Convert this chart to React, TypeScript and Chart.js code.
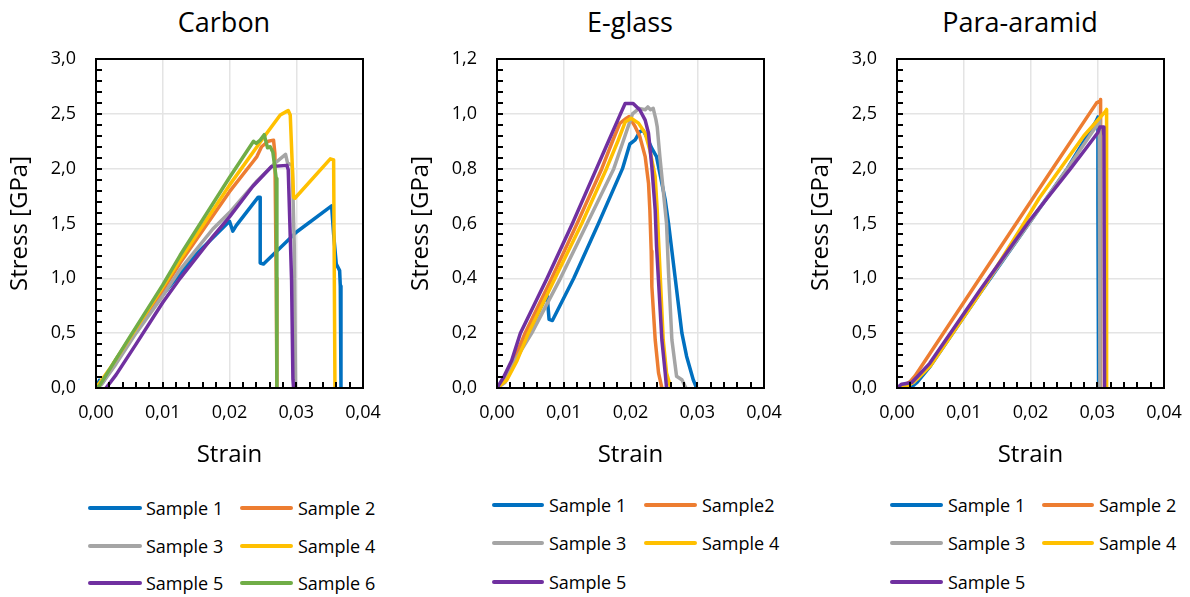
import React, { useEffect, useRef } from "react";
import { Chart, registerables } from "chart.js";
Chart.register(...registerables);

const FONT = "'Open Sans', 'Noto Sans', sans-serif";
const COLORS = ["#0070C0", "#ED7D31", "#A5A5A5", "#FFC000", "#7030A0", "#70AD47"];

const STRAIN_TICKS = { min: 0, max: 0.04, step: 0.01, minor: 0.002 };

// ---------- Carbon ----------
const carbonLabels = ["Sample 1", "Sample 2", "Sample 3", "Sample 4", "Sample 5", "Sample 6"];
const carbon1 = [[0,0],[0.0005,0.07],[0.001,0.05],[0.003,0.26],[0.006,0.53],[0.01,0.85],[0.015,1.22],[0.018,1.4],[0.02,1.52],[0.0205,1.43],[0.021,1.48],[0.0243,1.74],[0.0246,1.74],[0.0246,1.14],[0.0251,1.13],[0.03,1.42],[0.0353,1.66],[0.0356,1.4],[0.036,1.13],[0.0365,1.07],[0.0366,0.93],[0.0367,0]];
const carbon2 = [[0,0],[0.002,0.15],[0.005,0.43],[0.01,0.89],[0.0126,1.14],[0.02,1.79],[0.0236,2.07],[0.0241,2.11],[0.0248,2.2],[0.0258,2.25],[0.0266,2.26],[0.0268,2.14],[0.027,1.0],[0.0271,0]];
const carbon3 = [[0,0],[0.0008,0.03],[0.003,0.22],[0.006,0.5],[0.01,0.84],[0.0126,1.08],[0.0175,1.45],[0.02,1.6],[0.024,1.88],[0.027,2.06],[0.0284,2.13],[0.0287,2.05],[0.0294,2.03],[0.0297,1.3],[0.0299,0]];
const carbon4 = [[0,0],[0.002,0.17],[0.005,0.45],[0.01,0.92],[0.0126,1.17],[0.02,1.85],[0.0253,2.3],[0.0276,2.49],[0.0285,2.52],[0.0288,2.53],[0.0291,2.49],[0.0296,1.74],[0.0298,1.73],[0.0351,2.09],[0.0356,2.08],[0.0358,0]];
const carbon5 = [[0.0015,0],[0.003,0.12],[0.006,0.4],[0.01,0.78],[0.0126,1.0],[0.0175,1.38],[0.02,1.56],[0.0235,1.84],[0.0263,2.02],[0.0286,2.03],[0.0288,1.99],[0.0293,0.98],[0.0295,0.08],[0.0296,0]];
const carbon6 = [[0,0],[0.0005,0.02],[0.005,0.46],[0.01,0.94],[0.0126,1.21],[0.02,1.92],[0.0236,2.25],[0.024,2.23],[0.0246,2.26],[0.0252,2.31],[0.0257,2.19],[0.0261,2.2],[0.0265,2.15],[0.027,1.91],[0.0271,0]];

// ---------- E-glass ----------
const glassLabels = ["Sample 1", "Sample2", "Sample 3", "Sample 4", "Sample 5"];
const glass1 = [[0,0],[0.0015,0.04],[0.003,0.11],[0.0047,0.2],[0.0075,0.34],[0.0078,0.25],[0.0083,0.246],[0.0115,0.4],[0.0152,0.6],[0.0188,0.8],[0.0199,0.89],[0.0207,0.905],[0.0214,0.935],[0.0219,0.94],[0.0224,0.917],[0.0232,0.874],[0.0239,0.844],[0.0244,0.783],[0.0252,0.686],[0.0257,0.6],[0.0267,0.4],[0.0277,0.2],[0.0284,0.116],[0.0294,0.03],[0.0299,0]];
const glass2 = [[0,0],[0.001,0.03],[0.0025,0.1],[0.0042,0.2],[0.0082,0.4],[0.012,0.6],[0.0157,0.8],[0.0173,0.9],[0.0184,0.965],[0.0194,0.984],[0.0198,0.99],[0.0207,0.953],[0.0214,0.917],[0.0222,0.844],[0.0227,0.747],[0.0229,0.649],[0.0231,0.5],[0.0232,0.37],[0.0237,0.176],[0.0242,0.055],[0.0247,0]];
const glass3 = [[0,0],[0.0012,0.02],[0.0027,0.1],[0.0052,0.2],[0.0095,0.4],[0.0135,0.6],[0.0175,0.8],[0.0189,0.9],[0.0203,1.0],[0.0213,1.02],[0.0222,1.015],[0.0226,1.025],[0.023,1.015],[0.0234,1.02],[0.0238,0.98],[0.024,0.953],[0.0244,0.844],[0.0249,0.722],[0.0254,0.6],[0.0257,0.42],[0.0262,0.176],[0.0269,0.043],[0.0277,0.03],[0.0283,0]];
const glass4 = [[0,0],[0.0015,0.03],[0.003,0.1],[0.0047,0.2],[0.0087,0.4],[0.0127,0.6],[0.0164,0.8],[0.0181,0.9],[0.0192,0.97],[0.0201,0.984],[0.0212,0.966],[0.0222,0.929],[0.0229,0.868],[0.0237,0.771],[0.024,0.649],[0.0242,0.541],[0.0249,0.176],[0.0254,0.055],[0.0259,0.012],[0.026,0]];
const glass5 = [[0,0],[0.001,0.04],[0.0022,0.1],[0.0035,0.2],[0.0075,0.4],[0.0113,0.6],[0.0149,0.8],[0.0167,0.9],[0.0185,1.0],[0.0192,1.038],[0.0204,1.038],[0.0214,1.014],[0.0222,0.977],[0.0227,0.929],[0.0232,0.807],[0.0237,0.649],[0.0239,0.517],[0.0247,0.176],[0.0252,0.055],[0.0254,0]];

// ---------- Para-aramid ----------
const aramidLabels = ["Sample 1", "Sample 2", "Sample 3", "Sample 4", "Sample 5"];
const aramid1 = [[0,0],[0.002,0],[0.003,0.05],[0.005,0.2],[0.0125,0.87],[0.02,1.52],[0.0255,2.0],[0.0298,2.43],[0.0301,2.47],[0.0301,1.68],[0.0302,0]];
const aramid2 = [[0,0],[0.001,0.02],[0.002,0.06],[0.0027,0.11],[0.0124,1.0],[0.0233,2.0],[0.0299,2.6],[0.0302,2.61],[0.0304,2.6],[0.0305,2.63],[0.0305,0]];
const aramid3 = [[0,0],[0.001,0.02],[0.0025,0.05],[0.005,0.22],[0.0125,0.88],[0.02,1.52],[0.0255,2.0],[0.03,2.4],[0.0303,2.45],[0.0304,0]];
const aramid4 = [[0,0],[0.0015,0.01],[0.003,0.08],[0.005,0.2],[0.0125,0.87],[0.019,1.5],[0.0213,1.73],[0.0247,2.02],[0.028,2.3],[0.0312,2.52],[0.0314,2.54],[0.0314,0]];
const aramid5 = [[0,0],[0.0007,0.035],[0.0022,0.05],[0.003,0.1],[0.0049,0.225],[0.0124,0.89],[0.0199,1.53],[0.026,2.0],[0.0285,2.2],[0.0301,2.33],[0.0304,2.38],[0.0309,2.38],[0.031,2.3],[0.0311,0]];

const fmt = (d: number) => (v: any) => Number(v).toFixed(d).replace(".", ",");

const framePlugin = {
  id: "frame",
  afterDatasetsDraw(chart: any, _args: any, opts: any) {
    const { ctx, chartArea: a, scales } = chart;
    ctx.save();
    ctx.strokeStyle = "#000";
    ctx.lineWidth = 2;
    const xs = scales.x, ys = scales.y;
    const nx = Math.round((xs.max - xs.min) / opts.xMinor);
    ctx.beginPath();
    for (let i = 0; i <= nx; i++) {
      const px = Math.round(xs.getPixelForValue(xs.min + i * opts.xMinor));
      ctx.moveTo(px, a.bottom);
      ctx.lineTo(px, a.bottom - 6);
    }
    const ny = Math.round((ys.max - ys.min) / opts.yMinor);
    for (let i = 0; i <= ny; i++) {
      const py = Math.round(ys.getPixelForValue(ys.min + i * opts.yMinor));
      ctx.moveTo(a.left, py);
      ctx.lineTo(a.left + 6, py);
    }
    ctx.stroke();
    ctx.strokeRect(a.left, a.top, a.right - a.left, a.bottom - a.top);
    ctx.restore();
  },
};

type PanelProps = {
  left: number;
  title: string;
  titleX: number;
  labels: string[];
  series: number[][][];
  yMax: number;
  yStep: number;
  yMinor: number;
  yDec: number;
  legendCols: number[][];
  legendRows: number[];
};

function Panel(p: PanelProps) {
  const ref = useRef<HTMLCanvasElement>(null);
  useEffect(() => {
    const n = p.series.length;
    const chart = new Chart(ref.current as HTMLCanvasElement, {
      type: "line",
      data: {
        datasets: p.series.map((s, i) => ({
          label: p.labels[i],
          data: s.map(([x, y]) => ({ x, y })),
          borderColor: COLORS[i],
          backgroundColor: COLORS[i],
          borderWidth: 3.5,
          pointRadius: 0,
          tension: 0,
          fill: false,
          borderJoinStyle: "round",
          borderCapStyle: "round",
          order: n - i,
        })),
      },
      options: {
        animation: false,
        responsive: false,
        maintainAspectRatio: false,
        events: [],
        layout: { padding: { left: 0, right: 33, top: 59, bottom: 0 } },
        plugins: {
          legend: { display: false },
          tooltip: { enabled: false },
          frame: { xMinor: STRAIN_TICKS.minor, yMinor: p.yMinor },
        } as any,
        scales: {
          x: {
            type: "linear",
            min: STRAIN_TICKS.min,
            max: STRAIN_TICKS.max,
            ticks: {
              stepSize: STRAIN_TICKS.step,
              callback: fmt(2),
              font: { family: FONT, size: 18 },
              color: "#000",
              padding: 14,
              maxRotation: 0,
              autoSkip: false,
            },
            grid: { color: "#e4e4e4", lineWidth: 1.5, drawTicks: false },
            border: { display: false },
            title: {
              display: true,
              text: "Strain",
              font: { family: FONT, size: 24 },
              color: "#000",
              padding: { top: 0, bottom: 10 },
            },
            afterFit: (s: any) => {
              s.height = 92;
            },
          },
          y: {
            type: "linear",
            min: 0,
            max: p.yMax,
            ticks: {
              stepSize: p.yStep,
              callback: fmt(p.yDec),
              font: { family: FONT, size: 18 },
              color: "#000",
              padding: 20,
            },
            grid: { color: "#e4e4e4", lineWidth: 1.5, drawTicks: false },
            border: { display: false },
            title: {
              display: true,
              text: "Stress [GPa]",
              font: { family: FONT, size: 24 },
              color: "#000",
              padding: { top: 6, bottom: 0 },
            },
            afterFit: (s: any) => {
              s.width = 96;
            },
          },
        },
      } as any,
      plugins: [framePlugin],
    });
    return () => chart.destroy();
  }, []);

  return (
    <>
      <div
        style={{
          position: "absolute",
          left: p.titleX - 150,
          width: 300,
          top: 6,
          height: 32,
          lineHeight: "32px",
          textAlign: "center",
          fontFamily: FONT,
          fontSize: 27,
          color: "#000",
        }}
      >
        {p.title}
      </div>
      <canvas
        ref={ref}
        width={396}
        height={480}
        style={{ position: "absolute", left: p.left, top: 0, width: 396, height: 480 }}
      />
      {p.labels.map((lab, i) => {
        const col = p.legendCols[i % 2];
        const rowY = p.legendRows[Math.floor(i / 2)];
        return (
          <React.Fragment key={lab + i}>
            <div
              style={{
                position: "absolute",
                left: col[0],
                width: col[1] - col[0],
                top: rowY - 1.75,
                height: 3.5,
                borderRadius: 2,
                background: COLORS[i],
              }}
            />
            <div
              style={{
                position: "absolute",
                left: col[2],
                top: rowY - 15,
                height: 30,
                lineHeight: "30px",
                fontFamily: FONT,
                fontSize: 18,
                color: "#000",
                whiteSpace: "nowrap",
              }}
            >
              {lab}
            </div>
          </React.Fragment>
        );
      })}
    </>
  );
}

export default function App() {
  return (
    <div
      style={{
        position: "absolute",
        left: 0,
        top: 0,
        width: 1190,
        height: 597,
        background: "#fff",
        overflow: "hidden",
      }}
    >
      <Panel
        left={0}
        title="Carbon"
        titleX={224}
        labels={carbonLabels}
        series={[carbon1, carbon2, carbon3, carbon4, carbon5, carbon6]}
        yMax={3}
        yStep={0.5}
        yMinor={0.1}
        yDec={1}
        legendCols={[[88, 142, 146], [240, 293, 298]]}
        legendRows={[508, 546, 583]}
      />
      <Panel
        left={401}
        title="E-glass"
        titleX={630}
        labels={glassLabels}
        series={[glass1, glass2, glass3, glass4, glass5]}
        yMax={1.2}
        yStep={0.2}
        yMinor={0.04}
        yDec={1}
        legendCols={[[492, 544, 549], [644, 697, 702]]}
        legendRows={[505, 543, 582]}
      />
      <Panel
        left={801}
        title="Para-aramid"
        titleX={1020}
        labels={aramidLabels}
        series={[aramid1, aramid2, aramid3, aramid4, aramid5]}
        yMax={3}
        yStep={0.5}
        yMinor={0.1}
        yDec={1}
        legendCols={[[890, 943, 948], [1042, 1094, 1099]]}
        legendRows={[505, 543, 582]}
      />
    </div>
  );
}
